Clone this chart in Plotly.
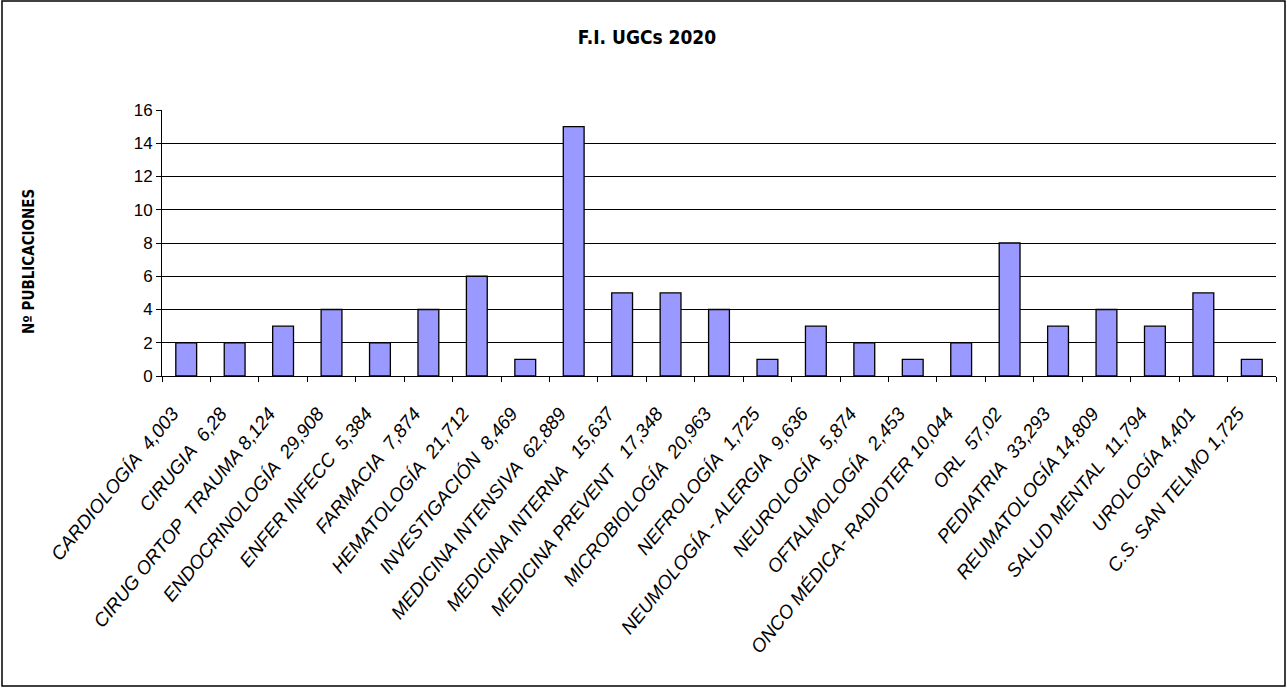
import plotly.graph_objects as go

categories = [
    "CARDIOLOGÍA  4,003", "CIRUGIA  6,28", "CIRUG ORTOP  TRAUMA 8,124",
    "ENDOCRINOLOGÍA  29,908", "ENFER INFECC  5,384", "FARMACIA  7,874",
    "HEMATOLOGÍA  21,712", "INVESTIGACIÓN  8,469", "MEDICINA INTENSIVA  62,889",
    "MEDICINA INTERNA   15,637", "MEDICINA PREVENT   17,348", "MICROBIOLOGÍA  20,963",
    "NEFROLOGÍA  1,725", "NEUMOLOGÍA - ALERGIA  9,636", "NEUROLOGÍA  5,874",
    "OFTALMOLOGÍA  2,453", "ONCO MÉDICA- RADIOTER 10,044", "ORL  57,02",
    "PEDIATRIA  33,293", "REUMATOLOGÍA 14,809", "SALUD MENTAL  11,794",
    "UROLOGÍA 4,401", "C.S. SAN TELMO 1,725",
]
publicaciones = [2, 2, 3, 4, 2, 4, 6, 1, 15, 5, 5, 4, 1, 3, 2, 1, 2, 8, 3, 4, 3, 5, 1]
y_ticks = [0, 2, 4, 6, 8, 10, 12, 14, 16]

# keep multiple spaces visible
labels = [c.replace("  ", "\u00a0\u00a0") for c in categories]

W, H = 1287, 688
L, R, T, B = 162, 11, 110, 312
pw, ph = W - L - R, H - T - B

fig = go.Figure(go.Bar(
    x=labels, y=publicaciones,
    marker=dict(color="#9999FF", line=dict(color="#000000", width=1.3)),
))

narrow = "DejaVu Sans Condensed, Liberation Sans Narrow, Arial Narrow, Liberation Sans, Arial"

fig.update_layout(
    width=W, height=H,
    margin=dict(l=L, r=R, t=T, b=B, autoexpand=False),
    paper_bgcolor="white", plot_bgcolor="white",
    bargap=0.57,
    showlegend=False,
    title=dict(text="<b>F.I. UGCs 2020</b>", x=647 / W, xanchor="center",
               y=1 - 37 / H, yanchor="middle",
               font=dict(family=narrow, size=19, color="black")),
    font=dict(family="Liberation Sans, Arial", color="black"),
)
fig.update_xaxes(
    type="category", tickangle=-51,
    tickfont=dict(family="Liberation Sans, Arial", size=19, style="italic", color="black"),
    ticklabelstandoff=18, ticklabelshift=-14,
    showline=True, linecolor="black", linewidth=1,
    ticks="outside", tickson="boundaries", ticklen=5, tickcolor="black",
    showgrid=False,
)
fig.update_yaxes(
    range=[0, 16], tickvals=y_ticks,
    tickfont=dict(family="Liberation Sans, Arial", size=17, color="black"),
    showline=True, linecolor="black", linewidth=1,
    ticks="outside", ticklen=5, tickcolor="black",
    showgrid=True, gridcolor="black", gridwidth=1,
    zeroline=False,
)
fig.add_annotation(
    text="<b>Nº PUBLICACIONES</b>", textangle=-90,
    xref="paper", yref="paper",
    x=(29 - L) / pw, y=(H - B - 262) / ph,
    xanchor="center", yanchor="middle", showarrow=False,
    font=dict(family=narrow, size=15, color="black"),
)
fig.add_shape(
    type="rect", xref="paper", yref="paper",
    x0=(2 - L) / pw, x1=(W - 2 - L) / pw,
    y0=-(H - 2 - (H - B)) / ph, y1=(H - B - 1) / ph,
    line=dict(color="black", width=1.5), fillcolor="rgba(0,0,0,0)",
)
fig.write_html("out.html", config={"displayModeBar": False},
               post_script="document.body.style.margin='0';")
